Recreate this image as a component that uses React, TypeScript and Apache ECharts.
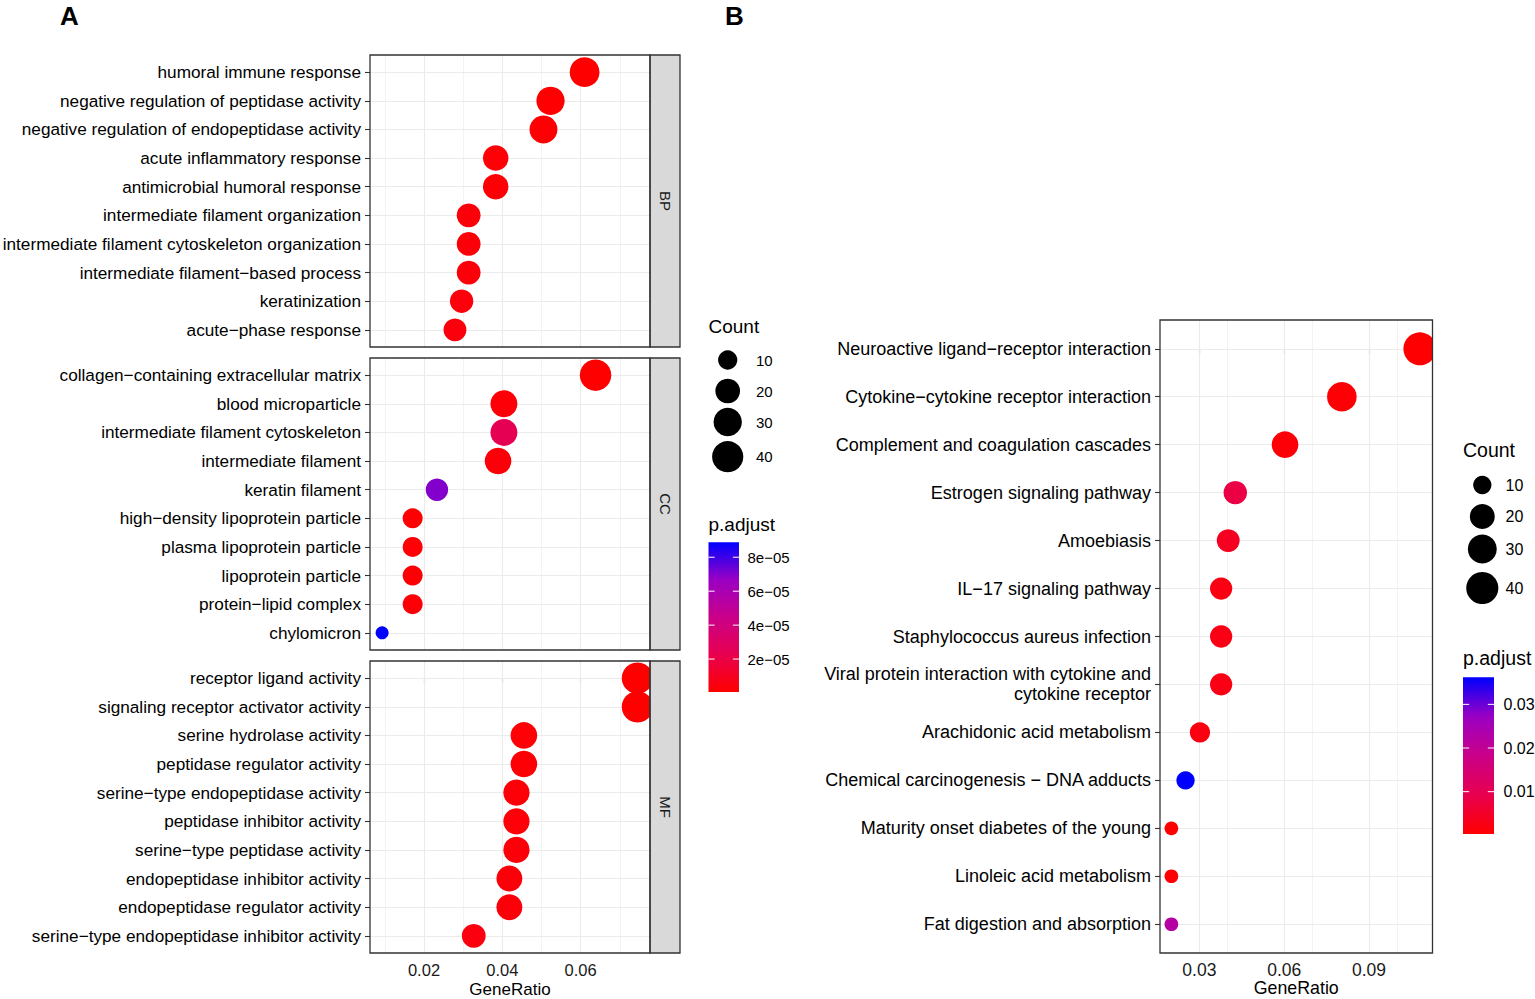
import React, { useEffect, useRef } from 'react';
import * as echarts from 'echarts';

// ---------------- DATA ----------------
const bpTerms = [
  'humoral immune response',
  'negative regulation of peptidase activity',
  'negative regulation of endopeptidase activity',
  'acute inflammatory response',
  'antimicrobial humoral response',
  'intermediate filament organization',
  'intermediate filament cytoskeleton organization',
  'intermediate filament\u2212based process',
  'keratinization',
  'acute\u2212phase response',
];
const bpGeneRatio = [0.061, 0.0523, 0.0505, 0.0383, 0.0383, 0.0314, 0.0314, 0.0314, 0.0296, 0.0279];
const bpCount = [35, 30, 29, 22, 22, 18, 18, 18, 17, 16];
const bpPadj = [6e-7, 1.1e-6, 1.3e-6, 2.0e-6, 2.2e-6, 3.0e-6, 3.1e-6, 3.3e-6, 3.6e-6, 4.0e-6];

const ccTerms = [
  'collagen\u2212containing extracellular matrix',
  'blood microparticle',
  'intermediate filament cytoskeleton',
  'intermediate filament',
  'keratin filament',
  'high\u2212density lipoprotein particle',
  'plasma lipoprotein particle',
  'lipoprotein particle',
  'protein\u2212lipid complex',
  'chylomicron',
];
const ccGeneRatio = [0.0638, 0.0404, 0.0404, 0.0389, 0.0233, 0.0171, 0.0171, 0.0171, 0.0171, 0.0093];
const ccCount = [41, 26, 26, 25, 15, 11, 11, 11, 11, 6];
const ccPadj = [8e-7, 2.5e-6, 2.4e-5, 3.5e-6, 7.0e-5, 1.8e-6, 2.0e-6, 2.2e-6, 2.6e-6, 8.88e-5];

const mfTerms = [
  'receptor ligand activity',
  'signaling receptor activator activity',
  'serine hydrolase activity',
  'peptidase regulator activity',
  'serine\u2212type endopeptidase activity',
  'peptidase inhibitor activity',
  'serine\u2212type peptidase activity',
  'endopeptidase inhibitor activity',
  'endopeptidase regulator activity',
  'serine\u2212type endopeptidase inhibitor activity',
];
const mfGeneRatio = [0.0745, 0.0745, 0.0455, 0.0455, 0.0436, 0.0436, 0.0436, 0.0418, 0.0418, 0.0327];
const mfCount = [41, 41, 25, 25, 24, 24, 24, 23, 23, 18];
const mfPadj = [9e-7, 1.0e-6, 2.0e-6, 2.3e-6, 2.6e-6, 2.8e-6, 3.0e-6, 3.2e-6, 3.4e-6, 4.5e-6];

const keggTerms = [
  'Neuroactive ligand\u2212receptor interaction',
  'Cytokine\u2212cytokine receptor interaction',
  'Complement and coagulation cascades',
  'Estrogen signaling pathway',
  'Amoebiasis',
  'IL\u221217 signaling pathway',
  'Staphylococcus aureus infection',
  'Viral protein interaction with cytokine and\ncytokine receptor',
  'Arachidonic acid metabolism',
  'Chemical carcinogenesis \u2212 DNA adducts',
  'Maturity onset diabetes of the young',
  'Linoleic acid metabolism',
  'Fat digestion and absorption',
];
const keggGeneRatio = [0.108, 0.0804, 0.0603, 0.0427, 0.0402, 0.0377, 0.0377, 0.0377, 0.0302, 0.0251, 0.0201, 0.0201, 0.0201];
const keggCount = [43, 32, 24, 17, 16, 15, 15, 15, 12, 10, 8, 8, 8];
const keggPadj = [0.0005, 0.0009, 0.0011, 0.0082, 0.004, 0.0025, 0.0026, 0.0027, 0.0022, 0.0362, 0.0003, 0.0007, 0.0221];

const xTicksA = [0.02, 0.04, 0.06];
const xMinorA = [0.01, 0.03, 0.05, 0.07];
const xTicksB = [0.03, 0.06, 0.09];
const xMinorB = [0.045, 0.075, 0.105];
const countBreaks = [10, 20, 30, 40];
const padjTicksA = [2e-5, 4e-5, 6e-5, 8e-5];
const padjTickLabelsA = ['2e\u221205', '4e\u221205', '6e\u221205', '8e\u221205'];
const padjTicksB = [0.01, 0.02, 0.03];
const padjTickLabelsB = ['0.01', '0.02', '0.03'];
const stripLabels = ['BP', 'CC', 'MF'];

// ---------------- STYLE / LAYOUT ----------------
const FONT = '"Liberation Sans", Arial, Helvetica, sans-serif';
const LAB_STOPS = ['#FF0000', '#E8004F', '#CA0089', '#9A00C3', '#0000FF'];
const GRID_COLOR = '#EBEBEB';
const BORDER = '#333333';

const A_LEFT = 370;
const A_WIDTH = 280;
const A_HEIGHT = 292;
const A_TOPS = [55, 358, 661];
const X_LIM_A = [0.00621, 0.0777];

const B_LEFT = 1160;
const B_TOP = 320;
const B_WIDTH = 272.5;
const B_HEIGHT = 633;
const X_LIM_B = [0.01607, 0.11247];

function buildOption() {
  const facets = [
    { terms: bpTerms, ratio: bpGeneRatio, count: bpCount, padj: bpPadj },
    { terms: ccTerms, ratio: ccGeneRatio, count: ccCount, padj: ccPadj },
    { terms: mfTerms, ratio: mfGeneRatio, count: mfCount, padj: mfPadj },
  ];
  const allCountA = [...bpCount, ...ccCount, ...mfCount];
  const cMinA = Math.min(...allCountA);
  const cMaxA = Math.max(...allCountA);
  const sizeA = (c: number) => 13 + 18.5 * Math.sqrt(Math.max(0, c - cMinA) / (cMaxA - cMinA));
  const cMinB = Math.min(...keggCount);
  const cMaxB = Math.max(...keggCount);
  const sizeB = (c: number) => 13.7 + 19.2 * Math.sqrt(Math.max(0, c - cMinB) / (cMaxB - cMinB));

  const allPA = [...bpPadj, ...ccPadj, ...mfPadj];
  const pMinA = Math.min(...allPA);
  const pMaxA = Math.max(...allPA);
  const pMinB = Math.min(...keggPadj);
  const pMaxB = Math.max(...keggPadj);

  const grid: any[] = A_TOPS.map((t) => ({
    left: A_LEFT, top: t, width: A_WIDTH, height: A_HEIGHT,
    containLabel: false, outerBoundsMode: 'none',
  }));
  grid.push({
    left: B_LEFT, top: B_TOP, width: B_WIDTH, height: B_HEIGHT,
    containLabel: false, outerBoundsMode: 'none',
  });

  const xAxis: any[] = [];
  const yAxis: any[] = [];
  facets.forEach((f, i) => {
    const bottom = i === 2;
    xAxis.push({
      type: 'value',
      gridIndex: i,
      min: X_LIM_A[0],
      max: X_LIM_A[1],
      axisLine: { show: false },
      splitLine: { show: false },
      axisTick: { show: bottom, length: 5, lineStyle: { color: BORDER, width: 1.1 }, customValues: xTicksA },
      axisLabel: {
        show: bottom,
        customValues: xTicksA,
        formatter: (v: number) => v.toFixed(2),
        fontSize: 16.5,
        color: '#1a1a1a',
        margin: 8,
        fontFamily: FONT,
      },
      name: bottom ? 'GeneRatio' : '',
      nameLocation: 'middle',
      nameGap: 28,
      nameMoveOverlap: false,
      nameTextStyle: { fontSize: 17, color: '#000', fontFamily: FONT },
    });
    const idx = f.terms.map((_, j) => j);
    yAxis.push({
      type: 'value',
      gridIndex: i,
      inverse: true,
      min: -0.6,
      max: f.terms.length - 0.4,
      axisLine: { show: false },
      splitLine: { show: false },
      axisTick: { show: true, length: 5, lineStyle: { color: BORDER, width: 1.1 }, customValues: idx },
      axisLabel: {
        customValues: idx,
        formatter: (v: number) => f.terms[Math.round(v)] ?? '',
        fontSize: 17.2,
        color: '#000',
        margin: 9,
        fontFamily: FONT,
      },
    });
  });
  const idxB = keggTerms.map((_, j) => j);
  xAxis.push({
    type: 'value',
    gridIndex: 3,
    min: X_LIM_B[0],
    max: X_LIM_B[1],
    axisLine: { show: false },
    splitLine: { show: false },
    axisTick: { show: true, length: 5, lineStyle: { color: BORDER, width: 1.1 }, customValues: xTicksB },
    axisLabel: {
      customValues: xTicksB,
      formatter: (v: number) => v.toFixed(2),
      fontSize: 17.5,
      color: '#1a1a1a',
      margin: 8,
      fontFamily: FONT,
    },
    name: 'GeneRatio',
    nameLocation: 'middle',
    nameGap: 26,
    nameMoveOverlap: false,
    nameTextStyle: { fontSize: 17.8, color: '#000', fontFamily: FONT },
  });
  yAxis.push({
    type: 'value',
    gridIndex: 3,
    inverse: true,
    min: -0.6,
    max: keggTerms.length - 0.4,
    axisLine: { show: false },
    splitLine: { show: false },
    axisTick: { show: true, length: 5, lineStyle: { color: BORDER, width: 1.1 }, customValues: idxB },
    axisLabel: {
      customValues: idxB,
      formatter: (v: number) => keggTerms[Math.round(v)] ?? '',
      fontSize: 18,
      lineHeight: 20,
      color: '#000',
      margin: 9,
      fontFamily: FONT,
      align: 'right',
    },
  });

  const series: any[] = [];
  facets.forEach((f, i) => {
    series.push({
      type: 'scatter',
      xAxisIndex: i,
      yAxisIndex: i,
      z: 3,
      silent: true,
      data: f.terms.map((_, j) => [f.ratio[j], j, f.count[j], f.padj[j]]),
      symbolSize: (v: number[]) => sizeA(v[2]),
      itemStyle: { opacity: 1 },
    });
  });
  series.push({
    type: 'scatter',
    xAxisIndex: 3,
    yAxisIndex: 3,
    z: 3,
    silent: true,
    data: keggTerms.map((_, j) => [keggGeneRatio[j], j, keggCount[j], keggPadj[j]]),
    symbolSize: (v: number[]) => sizeB(v[2]),
    itemStyle: { opacity: 1 },
  });

  const gridLineSeries = (gi: number, major: number[], minor: number[], n: number) => ({
    type: 'scatter',
    xAxisIndex: gi,
    yAxisIndex: gi,
    z: 1,
    silent: true,
    data: [],
    markLine: {
      z: 1,
      silent: true,
      animation: false,
      symbol: ['none', 'none'],
      label: { show: false },
      emphasis: { disabled: true },
      lineStyle: { color: GRID_COLOR, width: 1.1, type: 'solid' },
      data: [
        ...minor.map((v) => ({ xAxis: v, lineStyle: { color: GRID_COLOR, width: 0.6, type: 'solid' } })),
        ...major.map((v) => ({ xAxis: v })),
        ...Array.from({ length: n }, (_, j) => ({ yAxis: j })),
      ],
    },
  });
  facets.forEach((f, i) => series.push(gridLineSeries(i, xTicksA, xMinorA, f.terms.length)));
  series.push(gridLineSeries(3, xTicksB, xMinorB, keggTerms.length));

  const visualMap = [
    { type: 'continuous', show: false, seriesIndex: [0, 1, 2], dimension: 3, min: pMinA, max: pMaxA, inRange: { color: LAB_STOPS } },
    { type: 'continuous', show: false, seriesIndex: [3], dimension: 3, min: pMinB, max: pMaxB, inRange: { color: LAB_STOPS } },
  ];

  const gradient = {
    type: 'linear',
    x: 0,
    y: 0,
    x2: 0,
    y2: 1,
    colorStops: LAB_STOPS.slice().reverse().map((c, k) => ({ offset: k / (LAB_STOPS.length - 1), color: c })),
  };

  const txt = (x: number, y: number, text: string, fontSize: number, extra: any = {}) => ({
    type: 'text',
    x,
    y,
    z: 30,
    silent: true,
    style: { text, fontSize, fontFamily: FONT, fill: '#000', align: 'left', verticalAlign: 'middle', ...extra },
  });

  const graphic: any[] = [];
  graphic.push(txt(60, 16, 'A', 26, { fontWeight: 'bold' }));
  graphic.push(txt(725, 16, 'B', 26, { fontWeight: 'bold' }));

  graphic.push({ type: 'rect', z: 15, silent: true, shape: { x: B_LEFT + B_WIDTH, y: B_TOP - 20, width: 14, height: B_HEIGHT + 20 }, style: { fill: '#fff' } });

  A_TOPS.forEach((t, i) => {
    graphic.push({
      type: 'rect', z: 18, silent: true,
      shape: { x: A_LEFT + A_WIDTH, y: t, width: 30, height: A_HEIGHT },
      style: { fill: '#D9D9D9', stroke: BORDER, lineWidth: 1.3 },
    });
    graphic.push({
      type: 'text', z: 30, silent: true,
      x: A_LEFT + A_WIDTH + 15, y: t + A_HEIGHT / 2, rotation: -Math.PI / 2,
      style: { text: stripLabels[i], fontSize: 15, fontFamily: FONT, fill: '#1A1A1A', align: 'center', verticalAlign: 'middle' },
    });
    graphic.push({
      type: 'rect', z: 20, silent: true,
      shape: { x: A_LEFT, y: t, width: A_WIDTH, height: A_HEIGHT },
      style: { fill: 'none', stroke: BORDER, lineWidth: 1.3 },
    });
  });
  graphic.push({
    type: 'rect', z: 20, silent: true,
    shape: { x: B_LEFT, y: B_TOP, width: B_WIDTH, height: B_HEIGHT },
    style: { fill: 'none', stroke: BORDER, lineWidth: 1.3 },
  });

  const drawLegend = (
    lx: number, countY: number, circleCx: number, circleYs: number[], labelX: number,
    sizeFn: (c: number) => number, labelSize: number, titleSize: number,
    padjY: number, barX: number, barTop: number, barW: number, barH: number,
    pMin: number, pMax: number, ticks: number[], tickLabels: string[], tickLabelX: number,
  ) => {
    graphic.push(txt(lx, countY, 'Count', titleSize));
    countBreaks.forEach((c, k) => {
      graphic.push({ type: 'circle', z: 30, silent: true, shape: { cx: circleCx, cy: circleYs[k], r: sizeFn(c) / 2 }, style: { fill: '#000' } });
      graphic.push(txt(labelX, circleYs[k], String(c), labelSize));
    });
    graphic.push(txt(lx, padjY, 'p.adjust', titleSize));
    graphic.push({ type: 'rect', z: 30, silent: true, shape: { x: barX, y: barTop, width: barW, height: barH }, style: { fill: gradient } });
    ticks.forEach((v, k) => {
      const y = barTop + barH - ((v - pMin) / (pMax - pMin)) * barH;
      graphic.push({ type: 'line', z: 31, silent: true, shape: { x1: barX, y1: y, x2: barX + barW * 0.2, y2: y }, style: { stroke: '#fff', lineWidth: 1 } });
      graphic.push({ type: 'line', z: 31, silent: true, shape: { x1: barX + barW * 0.8, y1: y, x2: barX + barW, y2: y }, style: { stroke: '#fff', lineWidth: 1 } });
      graphic.push(txt(tickLabelX, y, tickLabels[k], labelSize));
    });
  };
  drawLegend(708.5, 326.5, 727.7, [360, 391, 422, 456.7], 756, sizeA, 15, 19,
    524, 708.5, 542.3, 30.5, 149.7, pMinA, pMaxA, padjTicksA, padjTickLabelsA, 747.5);
  drawLegend(1463, 449.5, 1482.3, [485, 516.5, 549, 588], 1505.5, sizeB, 16, 19.5,
    658, 1463, 677.3, 31, 156.7, pMinB, pMaxB, padjTicksB, padjTickLabelsB, 1503.5);

  return {
    animation: false,
    backgroundColor: '#ffffff',
    textStyle: { fontFamily: FONT },
    grid,
    xAxis,
    yAxis,
    visualMap,
    series,
    graphic,
  };
}

export default function App() {
  const ref = useRef<HTMLDivElement>(null);
  useEffect(() => {
    document.body.style.margin = '0';
    document.body.style.overflow = 'hidden';
    const chart = echarts.init(ref.current as HTMLDivElement, null, { renderer: 'svg' });
    chart.setOption(buildOption() as any);
    return () => chart.dispose();
  }, []);
  return <div ref={ref} style={{ width: 1535, height: 999 }} />;
}
